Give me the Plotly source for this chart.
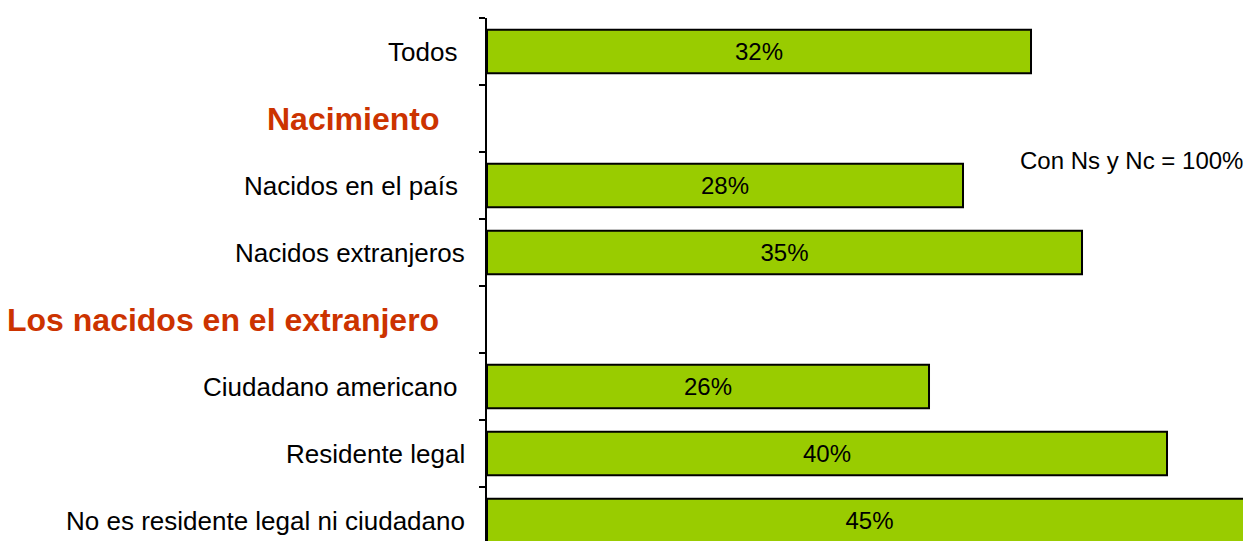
"""Horizontal bar chart: Con Ns y Nc = 100%"""

import plotly.graph_objects as go

# Rows from top to bottom; header rows have no bar
labels = ['Todos ', 'Nacimiento', 'Nacidos en el país ', 'Nacidos extranjeros',
          'Los nacidos en el extranjero', 'Ciudadano americano ', 'Residente legal',
          'No es residente legal ni ciudadano']
is_header = [False, True, False, False, True, False, False, False]
values = [32, None, 28, 35, None, 26, 40, 45]

rows = list(range(len(labels)))
FONT = 'Arial, Liberation Sans, sans-serif'

fig = go.Figure()
fig.add_trace(go.Bar(
    x=values,
    y=rows,
    orientation='h',
    width=0.65,
    marker=dict(color='#99CC00', line=dict(color='black', width=2)),
    texttemplate='%{x}%',
    textposition='inside',
    insidetextanchor='middle',
    insidetextfont=dict(family=FONT, size=24, color='black'),
    hoverinfo='skip',
))

# Category labels and section headers
for r, text, head in zip(rows, labels, is_header):
    if head:
        fig.add_annotation(x=0, y=r, xref='x', yref='y', text=text,
                           xanchor='right', yanchor='middle', xshift=-46,
                           showarrow=False,
                           font=dict(family=FONT, size=32, color='#CC3300', weight='bold'))
    else:
        fig.add_annotation(x=0, y=r, xref='x', yref='y', text=text,
                           xanchor='right', yanchor='middle', xshift=-20,
                           showarrow=False,
                           font=dict(family=FONT, size=26, color='black'))

fig.add_annotation(x=1, y=0.7266, xref='paper', yref='paper', text='Con Ns y Nc = 100%',
                   xanchor='right', yanchor='middle', xshift=2, showarrow=False,
                   font=dict(family=FONT, size=24, color='black'))

# the page body adds 8px around the figure; keep it inside the window
fig.update_layout(
    width=1235, height=533,
    margin=dict(l=479, r=0, t=10, b=0),
    paper_bgcolor='white', plot_bgcolor='white',
    showlegend=False,
    xaxis=dict(visible=False, range=[0, 44.47], fixedrange=True),
    yaxis=dict(
        range=[7.306, -0.5],
        showline=True, linecolor='black', linewidth=2,
        ticks='outside', ticklen=6, tickwidth=2, tickcolor='black',
        tickvals=[r - 0.5 for r in rows] + [len(rows) - 0.5],
        showticklabels=False, showgrid=False, zeroline=False,
    ),
)

fig.write_html("out.html")
